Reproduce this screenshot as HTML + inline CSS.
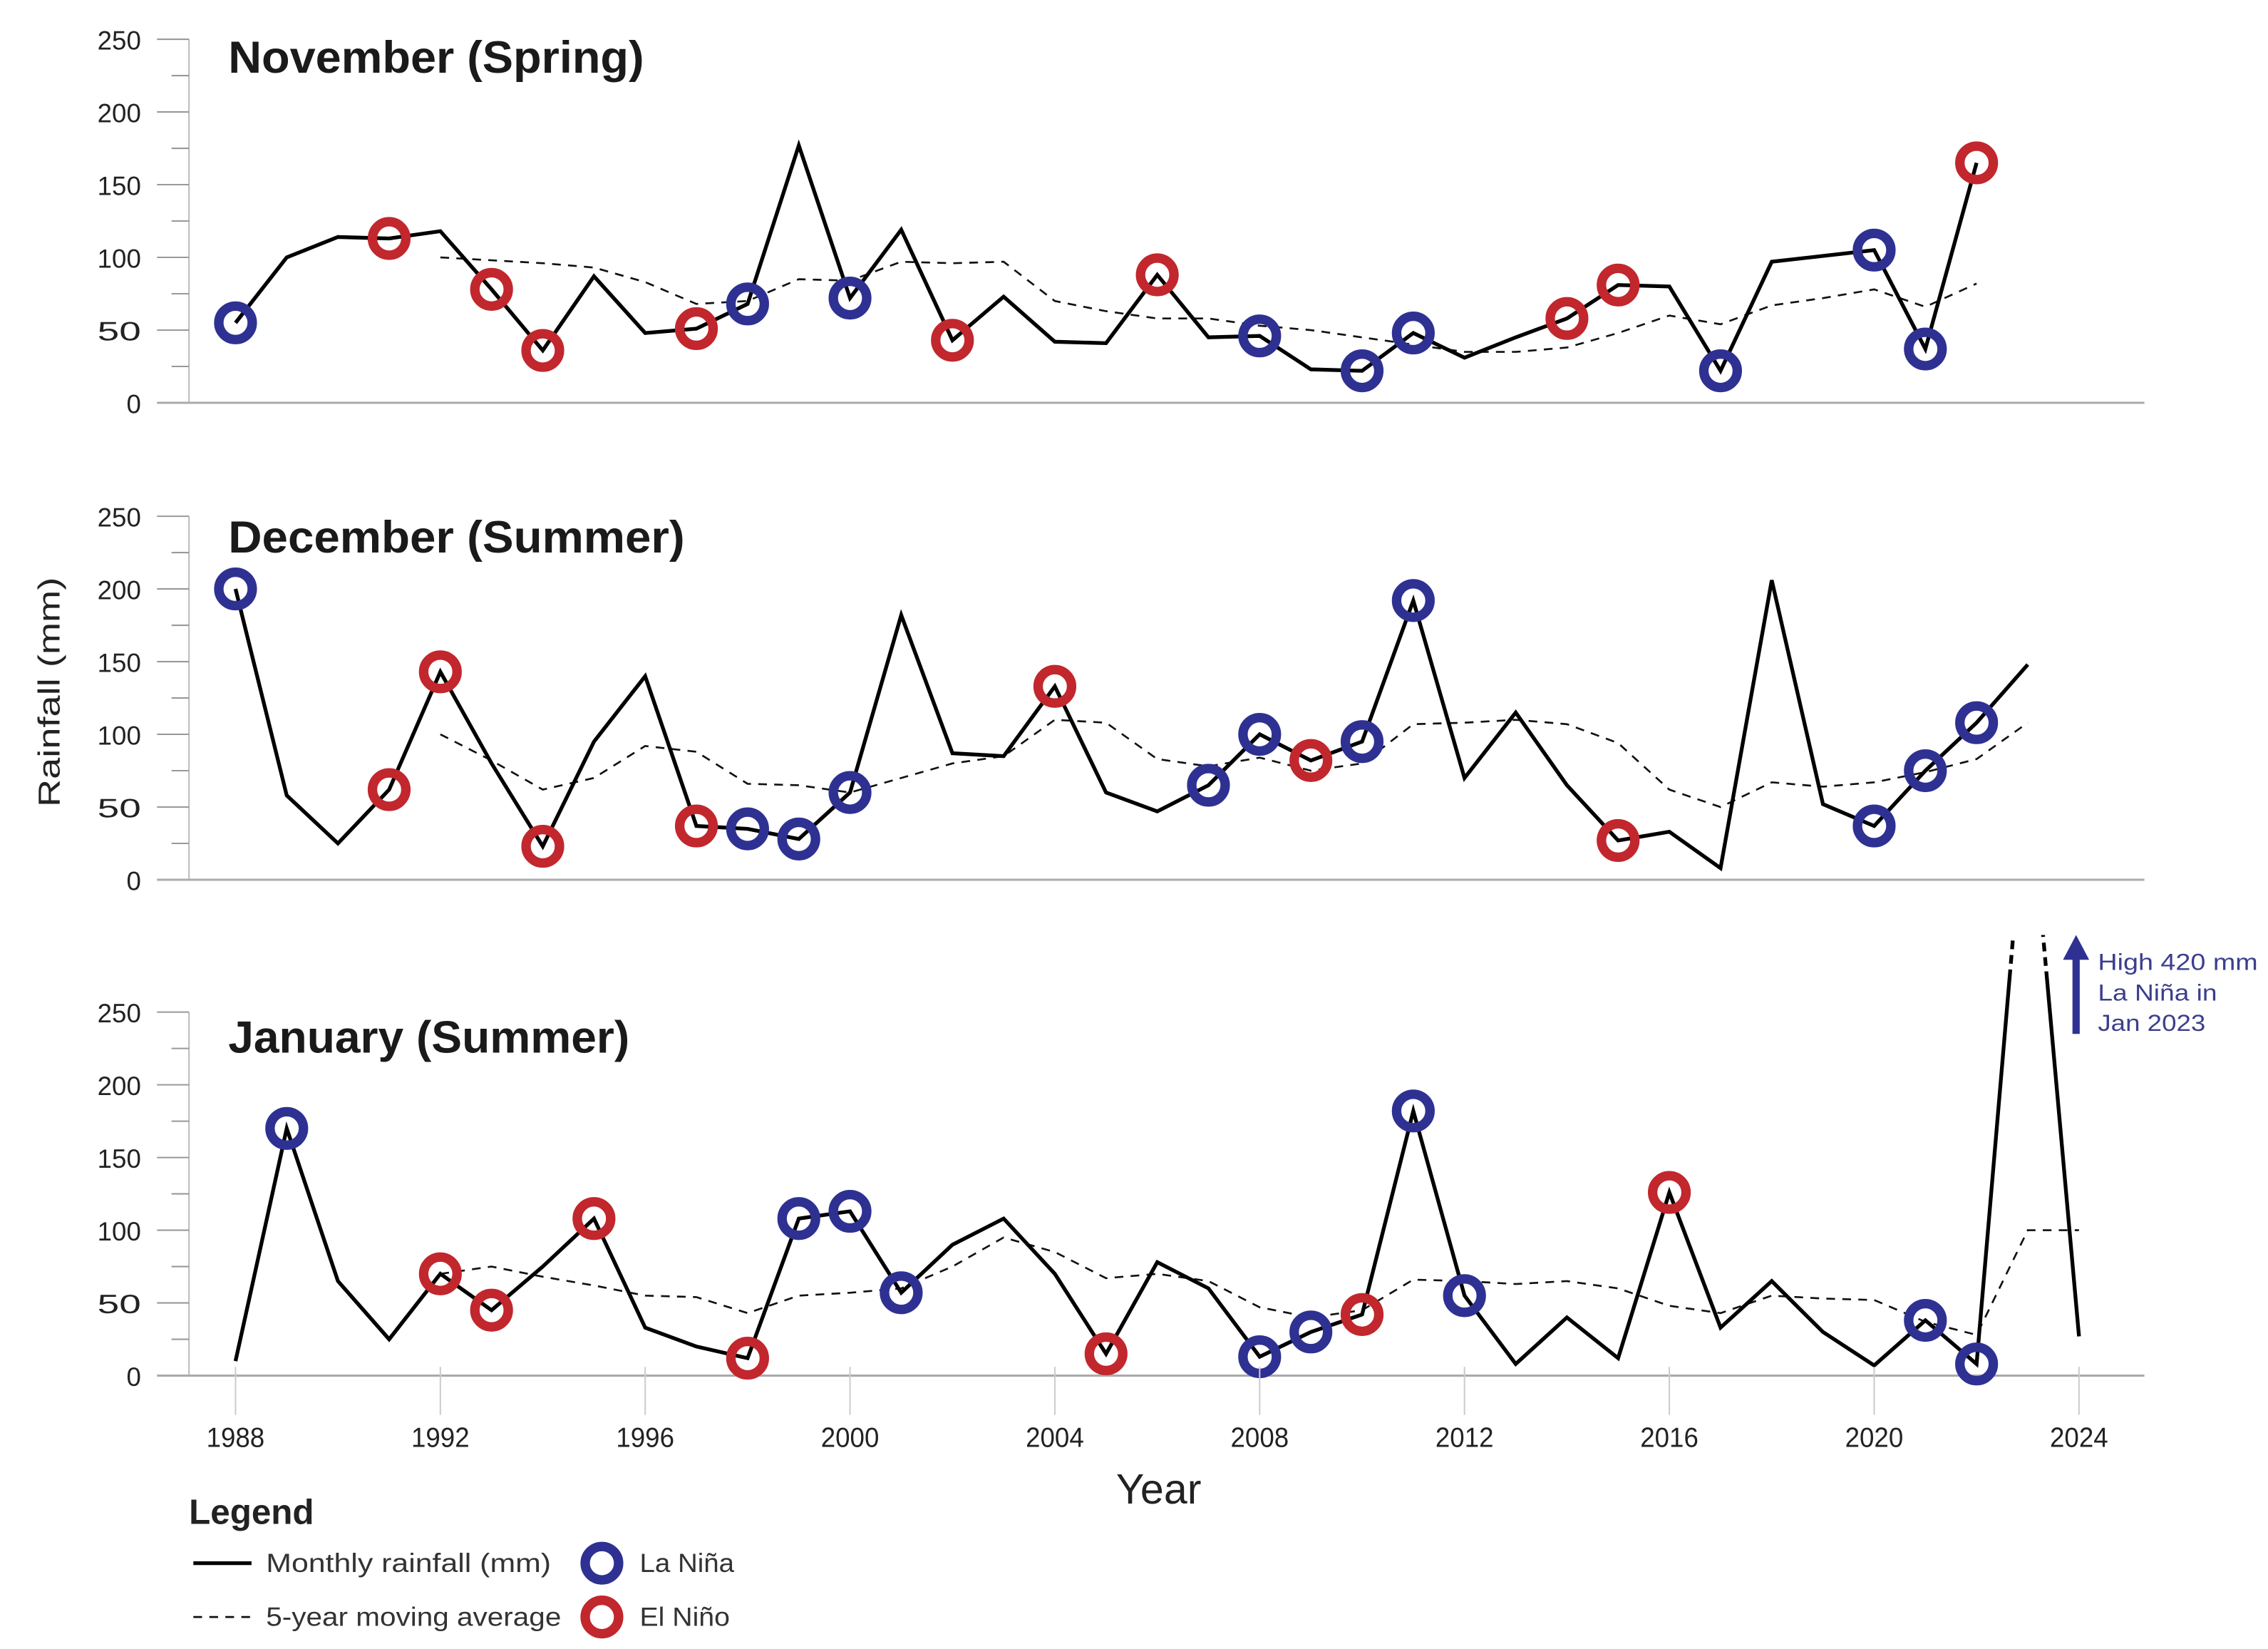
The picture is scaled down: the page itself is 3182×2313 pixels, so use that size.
<!DOCTYPE html>
<html><head><meta charset="utf-8"><style>
html,body{margin:0;padding:0;background:#fff;}
svg{display:block;}
text{font-family:"Liberation Sans",sans-serif;}
</style></head><body>
<svg id="chart" width="3182" height="2313" viewBox="0 0 1560 1134" preserveAspectRatio="none" xmlns="http://www.w3.org/2000/svg">
<defs>
<clipPath id="clipSolid"><rect x="0" y="668" width="1560" height="400"/></clipPath>
<clipPath id="clipDash"><rect x="0" y="643" width="1560" height="25"/></clipPath>
</defs>
<g id="root"></g>
</svg>
<script>
const years = Array.from({length:37},(_, i)=>1988+i);
const novRain = [55,100,114,113,118,78,36,87,48,51,68,177,72,119,43,73,42,41,88,45,46,23,22,48,31,45,58,81,80,22,97,101,105,37,165];
const novAvg = [null,null,null,null,100,98,96,93,83,68,70,85,84,97,96,97,70,63,58,58,53,50,45,40,35,35,38,48,60,54,67,72,78,66,82];
const novLaNina = [1988,1998,2000,2008,2010,2011,2017,2020,2021];
const novElNino = [1991,1993,1994,1997,2002,2006,2014,2015,2022];
const decRain = [200,58,25,62,143,80,23,95,140,37,35,28,60,182,87,85,133,60,47,65,100,82,95,192,70,115,65,27,33,8,206,52,37,75,108,148];
const decAvg = [null,null,null,null,100,82,62,70,92,88,66,65,60,70,80,85,110,108,83,78,84,75,80,107,108,110,107,94,62,50,67,64,67,74,83,108];
const decLaNina = [1988,1998,1999,2000,2007,2008,2010,2011,2020,2021,2022];
const decElNino = [1991,1992,1994,1997,2004,2009,2015];
const janRain = [10,170,65,25,70,45,75,108,33,20,12,108,113,57,90,108,70,15,78,60,13,30,42,182,55,8,40,12,126,33,65,30,7,38,8,420,27];
const janAvg = [null,null,null,null,70,75,68,62,55,54,43,55,57,60,75,95,85,67,70,65,47,40,45,66,65,63,65,60,48,43,55,53,52,37,28,100,100];
const janLaNina = [1989,1999,2000,2001,2008,2009,2011,2012,2021,2022];
const janElNino = [1992,1993,1995,1998,2005,2010,2016];
const yTicks = [0,50,100,150,200,250];
const xTickYears = [1988,1992,1996,2000,2004,2008,2012,2016,2020,2024];

const NS="http://www.w3.org/2000/svg";
const root=document.getElementById('root');
function mk(tag,attrs,parent){const e=document.createElementNS(NS,tag);for(const k in attrs)e.setAttribute(k,attrs[k]);(parent||root).appendChild(e);return e;}
const xScale=yr=>162+(yr-1988)*(1268/36);
const BLUE="#2e3192", RED="#c1272d";

const panels=[
 {title:"November (Spring)",zero:277,rain:novRain,avg:novAvg,ln:novLaNina,en:novElNino,ty:50,name:"november"},
 {title:"December (Summer)",zero:605,rain:decRain,avg:decAvg,ln:decLaNina,en:decElNino,ty:380,name:"december"},
 {title:"January (Summer)",zero:946,rain:janRain,avg:janAvg,ln:janLaNina,en:janElNino,ty:724,name:"january"}
];

panels.forEach((p,pi)=>{
  const g=mk('g',{});
  
  
  const ys=v=>p.zero-v;
  // axes
  const ya=mk('line',{x1:130,y1:p.zero-250,x2:130,y2:p.zero,stroke:"#bbb","stroke-width":1},g);
  
  
  const xa=mk('line',{x1:108,y1:p.zero,x2:1475,y2:p.zero,stroke:"#aaa","stroke-width":1.5},g);
  
  
  for(let v=25;v<=250;v+=25){
    const major=v%50===0;
    mk('line',{x1:major?108:118,y1:ys(v),x2:130,y2:ys(v),stroke:"#999","stroke-width":1},g);
  }
  yTicks.forEach(v=>{
    const t=mk('text',{x:97,y:ys(v)+7,"text-anchor":"end","font-size":18,fill:"#222",textLength:v===0?10:30,lengthAdjust:"spacingAndGlyphs"},g);
    t.textContent=v;
    
    
  });
  const tt=mk('text',{x:157,y:p.ty,"font-size":31,"font-weight":"bold",fill:"#1a1a1a",textLength:p.title.startsWith("Nov")?286:(p.title.startsWith("Dec")?314:276),lengthAdjust:"spacingAndGlyphs"},g);
  tt.textContent=p.title;
  
  
  // moving average
  let d="";
  p.avg.forEach((v,i)=>{if(v==null)return;d+=(d?"L":"M")+xScale(years[i])+","+ys(v);});
  const dl=mk('path',{d:d,fill:"none",stroke:"#111","stroke-width":1.3,"stroke-dasharray":"6,5"},g);
  
  
  // rainfall
  let d2="";
  p.rain.forEach((v,i)=>{d2+=(i?"L":"M")+xScale(years[i])+","+ys(v);});
  if(pi===2){
    const s=mk('path',{d:d2,fill:"none",stroke:"#000","stroke-width":2.6,"stroke-linejoin":"miter","clip-path":"url(#clipSolid)"},g);
    
    
    const s2=mk('path',{d:d2,fill:"none",stroke:"#000","stroke-width":2.6,"stroke-dasharray":"6,4","clip-path":"url(#clipDash)"},g);
    
    
  } else {
    const s=mk('path',{d:d2,fill:"none",stroke:"#000","stroke-width":2.6},g);
    
    
  }
  [[p.ln,BLUE,'la-nina-marker'],[p.en,RED,'el-nino-marker']].forEach(([arr,col,nm])=>{
    arr.forEach(yr=>{
      const v=p.rain[yr-1988];
      const c=mk('circle',{cx:xScale(yr),cy:ys(v),r:11.5,fill:"none",stroke:col,"stroke-width":6.5},g);
      
      
    });
  });
});

// x ticks
xTickYears.forEach(yr=>{
  mk('line',{x1:xScale(yr),y1:940,x2:xScale(yr),y2:973,stroke:"#ccc","stroke-width":1});
  const t=mk('text',{x:xScale(yr),y:995,"text-anchor":"middle","font-size":19,fill:"#222",textLength:40,lengthAdjust:"spacingAndGlyphs"});
  t.textContent=yr;
  
  
});
</script>
<svg style="position:absolute;left:0;top:0" width="3182" height="2313" viewBox="0 0 1560 1134" preserveAspectRatio="none" xmlns="http://www.w3.org/2000/svg">
<text x="797" y="1034" text-anchor="middle" font-size="29" fill="#222" font-family="Liberation Sans, sans-serif">Year</text>
<text transform="translate(41,476) rotate(-90)" text-anchor="middle" font-size="21" fill="#222" font-family="Liberation Sans, sans-serif" textLength="158" lengthAdjust="spacingAndGlyphs">Rainfall (mm)</text>
<g>
<line x1="1428" y1="711" x2="1428" y2="652" stroke="#2e3192" stroke-width="5"/>
<polygon points="1419,660 1428,643 1437,660" fill="#2e3192"/>
<text x="1443" y="667" font-size="16" fill="#3b3f8c" font-family="Liberation Sans, sans-serif" textLength="110" lengthAdjust="spacingAndGlyphs">High 420 mm</text>
<text x="1443" y="688" font-size="16" fill="#3b3f8c" font-family="Liberation Sans, sans-serif" textLength="82" lengthAdjust="spacingAndGlyphs">La Niña in</text>
<text x="1443" y="709" font-size="16" fill="#3b3f8c" font-family="Liberation Sans, sans-serif" textLength="74" lengthAdjust="spacingAndGlyphs">Jan 2023</text>
</g>
<g font-family="Liberation Sans, sans-serif">
<text x="130" y="1048" font-size="24" font-weight="bold" fill="#222" textLength="86" lengthAdjust="spacingAndGlyphs">Legend</text>
<line x1="133" y1="1075" x2="173" y2="1075" stroke="#000" stroke-width="2.6"/>
<text x="183" y="1081" font-size="18" fill="#333" textLength="196" lengthAdjust="spacingAndGlyphs">Monthly rainfall (mm)</text>
<line x1="133" y1="1112" x2="173" y2="1112" stroke="#111" stroke-width="1.3" stroke-dasharray="6,5"/>
<text x="183" y="1118" font-size="18" fill="#333" textLength="203" lengthAdjust="spacingAndGlyphs">5-year moving average</text>
<circle cx="414" cy="1075" r="11.5" fill="none" stroke="#2e3192" stroke-width="6.5"/>
<text x="440" y="1081" font-size="18" fill="#333" textLength="65" lengthAdjust="spacingAndGlyphs">La Niña</text>
<circle cx="414" cy="1112" r="11.5" fill="none" stroke="#c1272d" stroke-width="6.5"/>
<text x="440" y="1118" font-size="18" fill="#333" textLength="62" lengthAdjust="spacingAndGlyphs">El Niño</text>
</g>
</svg>
</body></html>
